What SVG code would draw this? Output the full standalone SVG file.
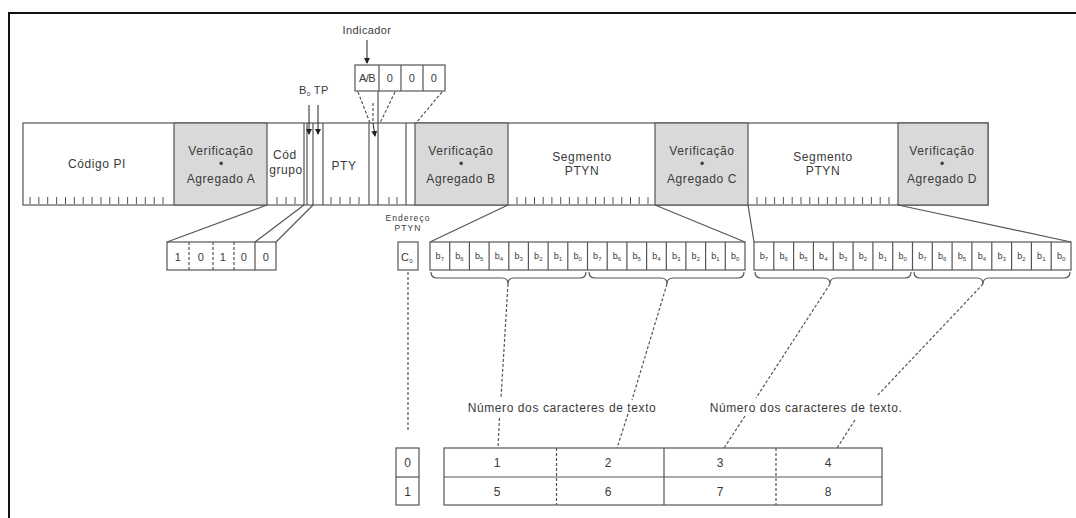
<svg xmlns="http://www.w3.org/2000/svg" width="1076" height="518" viewBox="0 0 1076 518">
<defs>
<marker id="ah" viewBox="0 0 6 6" refX="5" refY="3" markerWidth="6" markerHeight="6" orient="auto" markerUnits="userSpaceOnUse">
<path d="M0,0 L6,3 L0,6 Z" fill="#222"/>
</marker>
<style>
text{font-family:"Liberation Sans",Arial,sans-serif;fill:#3a3a3a;}
.lb{font-size:12px;letter-spacing:0.6px;text-anchor:middle;}
.sm{font-size:11px;letter-spacing:0.4px;text-anchor:middle;}
.tiny{font-size:8.5px;letter-spacing:1.1px;text-anchor:middle;}
.bt{font-size:9px;text-anchor:middle;}
.dot{font-size:12px;text-anchor:middle;}
.sub{font-size:6px;}
.num{font-size:12px;text-anchor:middle;}
.ln{stroke:#555;stroke-width:1.2;fill:none;}
.box{stroke:#555;stroke-width:1.2;fill:#fff;}
.gray{fill:#d9d9d9;stroke:#555;stroke-width:1.2;}
.tick{stroke:#555;stroke-width:1;fill:none;}
.dash{stroke:#555;stroke-width:1.2;fill:none;stroke-dasharray:3,2;}
.arr{stroke:#222;stroke-width:1;fill:none;marker-end:url(#ah);}
</style>
</defs>
<rect x="0" y="0" width="1076" height="518" fill="#fff"/>
<rect x="9" y="13" width="1090" height="530" fill="none" stroke="#111" stroke-width="2"/>

<g id="bar">
<rect x="23" y="123" width="965" height="82" class="box"/>
<rect x="174" y="123" width="93" height="82" class="gray"/>
<rect x="415" y="123" width="93" height="82" class="gray"/>
<rect x="655" y="123" width="93" height="82" class="gray"/>
<rect x="898" y="123" width="90" height="82" class="gray"/>
<path class="ln" d="M304,123V205 M307,123V205 M313,123V205 M323,123V205 M369,123V205 M406,123V205"/>
<path class="tick" d="M30,197v7 M38.9,197v7 M47.7,197v7 M56.6,197v7 M65.5,197v7 M74.4,197v7 M83.2,197v7 M92.1,197v7 M101,197v7 M109.8,197v7 M118.7,197v7 M127.6,197v7 M136.4,197v7 M145.3,197v7 M154.2,197v7 M163,197v7 M277,197v7 M286,197v7 M295,197v7 M331,197v7 M340,197v7 M350,197v7 M359,197v7 M389,197v7 M397,197v7 M517,197v7 M525.7,197v7 M534.5,197v7 M543.2,197v7 M551.9,197v7 M560.7,197v7 M569.4,197v7 M578.1,197v7 M586.8,197v7 M595.6,197v7 M604.3,197v7 M613,197v7 M621.8,197v7 M630.5,197v7 M639.2,197v7 M648,197v7 M757,197v7 M765.8,197v7 M774.6,197v7 M783.4,197v7 M792.2,197v7 M801,197v7 M809.8,197v7 M818.6,197v7 M827.4,197v7 M836.2,197v7 M845,197v7 M853.8,197v7 M862.6,197v7 M871.4,197v7 M880.2,197v7 M889,197v7"/>
<text class="lb" x="97" y="168">Código PI</text>
<text class="lb" x="221" y="155">Verificação</text>
<text class="dot" x="221" y="168">•</text>
<text class="lb" x="221" y="183">Agregado A</text>
<text class="lb" x="285" y="159">Cód</text>
<text class="lb" x="286" y="174">grupo</text>
<text class="lb" x="344" y="170">PTY</text>
<text class="lb" x="461" y="155">Verificação</text>
<text class="dot" x="461" y="168">•</text>
<text class="lb" x="461" y="183">Agregado B</text>
<text class="lb" x="582" y="161">Segmento</text>
<text class="lb" x="582" y="175">PTYN</text>
<text class="lb" x="702" y="155">Verificação</text>
<text class="dot" x="702" y="168">•</text>
<text class="lb" x="702" y="183">Agregado C</text>
<text class="lb" x="823" y="161">Segmento</text>
<text class="lb" x="823" y="175">PTYN</text>
<text class="lb" x="942" y="155">Verificação</text>
<text class="dot" x="942" y="168">•</text>
<text class="lb" x="942" y="183">Agregado D</text>
</g>

<g id="indicador">
<text class="sm" x="367" y="34">Indicador</text>
<rect x="355" y="65" width="90" height="26" class="box"/>
<path class="ln" d="M379,65V91 M401,65V91 M423,65V91"/>
<text class="sm" x="367" y="82" style="letter-spacing:-0.5px">A/B</text>
<text class="sm" x="390" y="82">0</text>
<text class="sm" x="412" y="82">0</text>
<text class="sm" x="434" y="82">0</text>
</g>

<g id="b0tp">
<text class="sm" x="299" y="94" style="text-anchor:start">B<tspan class="sub" dy="2">0</tspan><tspan dy="-2"> TP</tspan></text>
</g>

<g id="grupo-bits">
<rect x="167" y="242" width="109" height="28" class="box"/>
<path class="dash" d="M189,242V270 M213,242V270 M234,242V270"/>
<path class="ln" d="M255,242V270"/>
<text class="sm" x="178" y="261">1</text>
<text class="sm" x="201" y="261">0</text>
<text class="sm" x="223" y="261">1</text>
<text class="sm" x="244" y="261">0</text>
<text class="sm" x="266" y="261">0</text>
</g>

<g id="endereco">
<text class="tiny" x="408" y="221">Endereço</text>
<text class="tiny" x="408" y="231">PTYN</text>
<rect x="398" y="242" width="20" height="28" class="box"/>
<text class="sm" x="407" y="261">C<tspan class="sub" dy="2">0</tspan></text>
</g>

<g id="bits-1">
<rect x="430" y="242" width="315" height="28" class="box"/>
<path class="ln" d="M449.7,242V270 M469.4,242V270 M489.1,242V270 M508.8,242V270 M528.4,242V270 M548.1,242V270 M567.8,242V270 M587.5,242V270 M607.2,242V270 M626.9,242V270 M646.6,242V270 M666.3,242V270 M685.9,242V270 M705.6,242V270 M725.3,242V270"/>
<text class="bt" x="439.8" y="259">b<tspan class="sub" dy="2">7</tspan></text>
<text class="bt" x="459.5" y="259">b<tspan class="sub" dy="2">6</tspan></text>
<text class="bt" x="479.2" y="259">b<tspan class="sub" dy="2">5</tspan></text>
<text class="bt" x="498.9" y="259">b<tspan class="sub" dy="2">4</tspan></text>
<text class="bt" x="518.6" y="259">b<tspan class="sub" dy="2">3</tspan></text>
<text class="bt" x="538.3" y="259">b<tspan class="sub" dy="2">2</tspan></text>
<text class="bt" x="558" y="259">b<tspan class="sub" dy="2">1</tspan></text>
<text class="bt" x="577.7" y="259">b<tspan class="sub" dy="2">0</tspan></text>
<text class="bt" x="597.3" y="259">b<tspan class="sub" dy="2">7</tspan></text>
<text class="bt" x="617" y="259">b<tspan class="sub" dy="2">6</tspan></text>
<text class="bt" x="636.7" y="259">b<tspan class="sub" dy="2">5</tspan></text>
<text class="bt" x="656.4" y="259">b<tspan class="sub" dy="2">4</tspan></text>
<text class="bt" x="676.1" y="259">b<tspan class="sub" dy="2">3</tspan></text>
<text class="bt" x="695.8" y="259">b<tspan class="sub" dy="2">2</tspan></text>
<text class="bt" x="715.5" y="259">b<tspan class="sub" dy="2">1</tspan></text>
<text class="bt" x="735.2" y="259">b<tspan class="sub" dy="2">0</tspan></text>
</g>

<g id="bits-2">
<rect x="754" y="242" width="317" height="28" class="box"/>
<path class="ln" d="M773.8,242V270 M793.6,242V270 M813.4,242V270 M833.3,242V270 M853.1,242V270 M872.9,242V270 M892.7,242V270 M912.5,242V270 M932.3,242V270 M952.1,242V270 M971.9,242V270 M991.8,242V270 M1011.6,242V270 M1031.4,242V270 M1051.2,242V270"/>
<text class="bt" x="763.9" y="259">b<tspan class="sub" dy="2">7</tspan></text>
<text class="bt" x="783.7" y="259">b<tspan class="sub" dy="2">6</tspan></text>
<text class="bt" x="803.5" y="259">b<tspan class="sub" dy="2">5</tspan></text>
<text class="bt" x="823.3" y="259">b<tspan class="sub" dy="2">4</tspan></text>
<text class="bt" x="843.2" y="259">b<tspan class="sub" dy="2">3</tspan></text>
<text class="bt" x="863" y="259">b<tspan class="sub" dy="2">2</tspan></text>
<text class="bt" x="882.8" y="259">b<tspan class="sub" dy="2">1</tspan></text>
<text class="bt" x="902.6" y="259">b<tspan class="sub" dy="2">0</tspan></text>
<text class="bt" x="922.4" y="259">b<tspan class="sub" dy="2">7</tspan></text>
<text class="bt" x="942.2" y="259">b<tspan class="sub" dy="2">6</tspan></text>
<text class="bt" x="962" y="259">b<tspan class="sub" dy="2">5</tspan></text>
<text class="bt" x="981.9" y="259">b<tspan class="sub" dy="2">4</tspan></text>
<text class="bt" x="1001.7" y="259">b<tspan class="sub" dy="2">3</tspan></text>
<text class="bt" x="1021.5" y="259">b<tspan class="sub" dy="2">2</tspan></text>
<text class="bt" x="1041.3" y="259">b<tspan class="sub" dy="2">1</tspan></text>
<text class="bt" x="1061.1" y="259">b<tspan class="sub" dy="2">0</tspan></text>
</g>

<g id="braces">
<path class="ln" d="M431,272 Q431,278 437,278 L502,278 Q508,278 508,284 Q508,278 514,278 L580,278 Q586,278 586,272"/>
<path class="ln" d="M589,272 Q589,278 595,278 L661,278 Q667,278 667,284 Q667,278 673,278 L738,278 Q744,278 744,272"/>
<path class="ln" d="M755,272 Q755,278 761,278 L824,278 Q830,278 830,284 Q830,278 836,278 L905,278 Q911,278 911,272"/>
<path class="ln" d="M914,272 Q914,278 920,278 L977,278 Q983,278 983,284 Q983,278 989,278 L1064,278 Q1070,278 1070,272"/>
</g>

<g id="labels">
<text class="lb" x="562" y="412">Número dos caracteres de texto</text>
<text class="lb" x="806" y="412">Número dos caracteres de texto.</text>
</g>

<g id="tabela-sel">
<rect x="396" y="448" width="23" height="57" class="box"/>
<path class="ln" d="M396,477H419"/>
<text class="num" x="407.5" y="467">0</text>
<text class="num" x="407.5" y="496">1</text>
</g>

<g id="tabela-caracteres">
<rect x="444" y="448" width="438" height="57" class="box"/>
<path class="ln" d="M444,477H882 M664,448V505"/>
<path class="dash" d="M556.5,448V505 M776,448V505"/>
<text class="num" x="497" y="467">1</text>
<text class="num" x="608" y="467">2</text>
<text class="num" x="720" y="467">3</text>
<text class="num" x="828" y="467">4</text>
<text class="num" x="497" y="496">5</text>
<text class="num" x="608" y="496">6</text>
<text class="num" x="720" y="496">7</text>
<text class="num" x="828" y="496">8</text>
</g>

<g id="connectors">
<path class="arr" d="M367,40V63"/>
<path class="arr" d="M309,105V134"/>
<path class="arr" d="M318,105V134"/>
<path class="dash" d="M373,103V121"/>
<path class="arr" d="M373,123L375,136"/>
<path class="ln" d="M378,91V205"/>
<path class="dash" d="M358,92L370,123 M395,92L380,123 M442,92L416,123"/>
<path class="ln" d="M167,242L267,205 M255,242L304,205 M276,242L313,205"/>
<path class="ln" d="M430,242L508,205 M745,242L655,205 M754,242L748,205 M1071,242L898,205"/>
<path class="dash" d="M408,272V432"/>
<path class="dash" d="M508,284L501,398 M499.5,418L498,448"/>
<path class="dash" d="M667,284L632,400 M628,414L617,448"/>
<path class="dash" d="M830,284L756,398 M745,416L724,448"/>
<path class="dash" d="M983,284L877,396 M855,420L837,448"/>
</g>
</svg>
